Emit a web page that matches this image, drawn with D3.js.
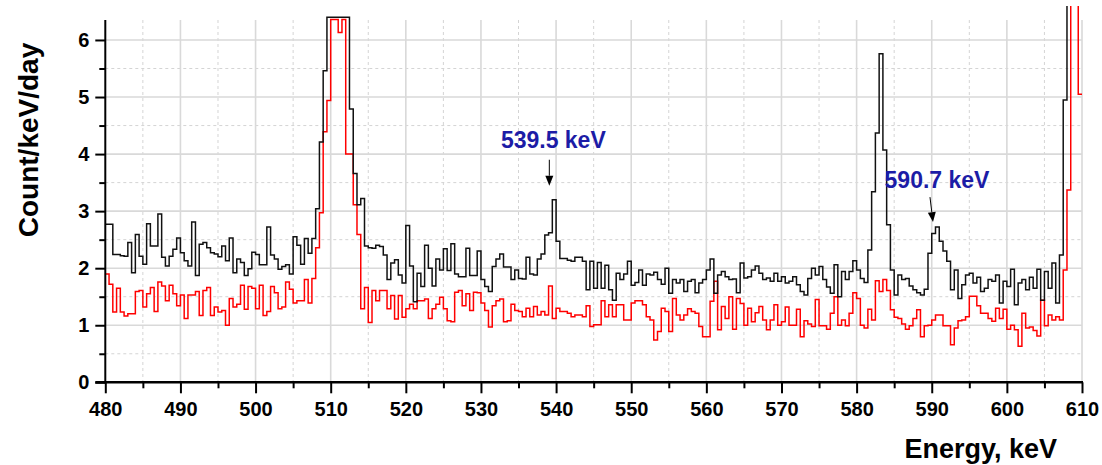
<!DOCTYPE html>
<html>
<head>
<meta charset="utf-8">
<script src="https://cdn.jsdelivr.net/npm/d3@7/dist/d3.min.js"></script>
<style>
  html, body { margin: 0; padding: 0; background: #fff; }
  svg { display: block; }
</style>
</head>
<body>
<svg id="chart" width="1102" height="465"></svg>
<script>
// Spectrum binning: 0.5 keV bins starting at 480 keV
const binStart = 480;
const binWidth = 0.5;

// Black spectrum, Count/keV/day per bin
const countsBlack = [
  2.77,2.77,2.24,2.24,2.22,2.21,2.45,1.92,2.59,2.21,2.07,2.78,2.39,2.39,2.95,2.19,2.04,2.21,2.33,2.53,
  2.27,2.13,2.04,2.81,1.87,2.42,2.45,2.36,2.27,2.25,2.20,2.39,2.13,2.53,1.92,2.16,2.10,1.87,1.99,2.28,
  2.24,2.06,2.06,2.72,2.23,2.16,1.98,2.03,2.06,1.90,2.55,2.40,2.07,2.52,2.26,2.52,3.04,4.21,5.46,6.40,
  6.40,6.40,6.40,6.40,6.40,4.79,3.66,3.11,3.22,2.39,2.36,2.35,2.40,2.38,2.23,1.80,2.09,2.15,1.88,1.74,
  2.75,2.04,1.41,1.91,1.68,2.40,2.00,1.69,2.16,1.97,2.34,1.96,2.43,1.90,1.85,1.85,2.35,1.87,1.87,2.30,
  1.80,1.68,1.59,2.03,2.16,2.25,2.02,2.02,1.80,1.97,1.82,1.81,2.19,1.90,1.88,2.16,2.25,2.58,2.62,3.20,
  2.47,2.17,2.17,2.14,2.12,2.19,2.19,2.12,1.62,2.12,1.65,2.10,1.65,2.05,1.62,1.44,1.91,1.80,1.90,2.12,
  1.70,1.75,1.97,1.70,1.90,1.88,1.93,1.80,1.72,2.00,1.56,1.80,1.74,1.80,1.59,1.77,1.80,1.57,1.74,1.80,
  1.97,2.16,1.56,1.88,1.94,1.85,1.80,1.81,1.57,2.09,1.83,1.85,1.97,2.04,1.91,1.80,1.83,1.77,1.91,1.77,
  1.85,1.74,1.77,1.85,1.71,1.59,1.53,1.82,2.00,1.88,2.03,1.80,1.67,1.56,2.06,1.50,1.94,1.80,1.94,2.13,
  1.97,1.82,1.75,2.32,3.34,4.37,5.76,4.07,2.76,1.97,1.53,1.88,1.80,1.82,1.69,1.62,1.57,1.53,1.63,2.26,
  2.61,2.72,2.47,2.30,2.12,1.62,1.97,1.47,1.71,1.88,1.91,1.74,1.84,1.59,1.65,1.80,1.77,1.88,1.39,1.77,
  1.68,1.98,1.36,1.74,1.80,1.62,1.84,1.65,1.98,1.44,1.94,1.65,2.09,1.39,2.23,4.95,9.5,16,22,26
];

// Red spectrum, Count/keV/day per bin
const countsRed = [
  1.90,1.72,1.23,1.65,1.23,1.16,1.20,1.20,1.59,1.61,1.32,1.55,1.66,1.24,1.76,1.69,1.43,1.70,1.55,1.34,
  1.53,1.12,1.53,1.53,1.59,1.17,1.61,1.66,1.17,1.32,1.23,1.26,1.00,1.47,1.32,1.37,1.70,1.28,1.68,1.65,
  1.29,1.70,1.17,1.24,1.68,1.57,1.29,1.32,1.76,1.63,1.39,1.43,1.43,1.80,1.39,1.82,2.36,2.97,4.39,4.94,
  6.36,6.36,6.13,6.36,4.00,4.00,3.11,2.59,1.29,1.66,1.05,1.61,1.43,1.61,1.61,1.29,1.52,1.11,1.52,1.14,
  1.29,1.37,1.29,1.43,1.43,1.46,1.12,1.29,1.37,1.49,1.29,1.08,1.06,1.58,1.61,1.34,1.55,1.26,1.58,1.57,
  1.39,1.26,0.97,1.34,1.43,1.46,1.06,1.08,1.37,1.26,1.24,1.15,1.30,1.15,1.33,1.18,1.24,1.18,1.69,1.12,
  1.30,1.24,1.24,1.21,1.15,1.18,1.18,1.15,1.34,0.98,1.01,1.01,1.43,1.15,1.36,1.15,1.36,1.36,1.09,1.09,
  1.39,1.43,1.43,1.36,1.15,1.09,0.74,0.89,1.30,1.24,0.89,1.47,1.18,1.09,1.18,1.29,1.24,1.21,0.98,0.80,
  0.80,1.42,1.77,0.92,1.33,1.12,1.50,0.93,1.47,1.38,1.00,1.30,1.06,1.22,1.33,1.09,0.92,1.09,1.36,1.00,
  1.06,1.32,1.00,1.00,1.28,0.80,1.08,1.02,0.98,1.45,0.99,0.99,0.93,1.21,1.50,1.00,1.09,0.99,1.21,1.57,
  1.47,1.00,0.95,1.28,1.09,1.78,1.59,1.80,1.61,1.27,1.14,1.12,1.02,0.93,0.99,1.12,1.27,0.80,0.99,1.00,
  1.09,1.18,1.18,0.99,0.99,0.66,0.95,1.08,1.09,1.15,1.51,1.51,1.34,1.21,1.21,1.12,1.07,1.30,1.12,1.28,
  0.93,1.00,0.92,0.63,1.21,0.95,0.97,0.91,0.81,1.44,0.99,1.18,1.09,1.15,1.09,1.97,3.37,8.5,12,5.05
];

// Axis ticks and titles
const xMajorTicks = [480, 490, 500, 510, 520, 530, 540, 550, 560, 570, 580, 590, 600, 610];
const xMinorTicks = [485, 495, 505, 515, 525, 535, 545, 555, 565, 575, 585, 595, 605];
const yMajorTicks = [0, 1, 2, 3, 4, 5, 6];
const yMinorTicks = [0.5, 1.5, 2.5, 3.5, 4.5, 5.5];
const xTitle = "Energy, keV";
const yTitle = "Count/keV/day";

// Peak annotations
const peakEnergies = [539.5, 590.7];
const peakTexts = ["539.5 keV", "590.7 keV"];

// ---- layout ----
const plot = { left: 105.3, right: 1082, top: 20, bottom: 382.3 };
const font = "'Liberation Sans', Arial, Helvetica, sans-serif";

const x = d3.scaleLinear().domain([480, 610]).range([plot.left, plot.right]);
const y = d3.scaleLinear().domain([0, 6.35]).range([plot.bottom, plot.top]);

const svg = d3.select("#chart");

// grid
const grid = svg.append("g");
grid.selectAll("line.vmin").data(xMinorTicks).join("line")
  .attr("x1", d => x(d)).attr("x2", d => x(d))
  .attr("y1", plot.top).attr("y2", plot.bottom)
  .attr("stroke", "#d4d4d4").attr("stroke-width", 1).attr("stroke-dasharray", "3,3");
grid.selectAll("line.hmin").data(yMinorTicks).join("line")
  .attr("x1", plot.left).attr("x2", plot.right)
  .attr("y1", d => y(d)).attr("y2", d => y(d))
  .attr("stroke", "#d4d4d4").attr("stroke-width", 1).attr("stroke-dasharray", "3,3");
grid.selectAll("line.vmaj").data(xMajorTicks.slice(1)).join("line")
  .attr("x1", d => x(d)).attr("x2", d => x(d))
  .attr("y1", plot.top).attr("y2", plot.bottom)
  .attr("stroke", "#d9d9d9").attr("stroke-width", 1.6);
grid.selectAll("line.hmaj").data(yMajorTicks.slice(1)).join("line")
  .attr("x1", plot.left).attr("x2", plot.right)
  .attr("y1", d => y(d)).attr("y2", d => y(d))
  .attr("stroke", "#d9d9d9").attr("stroke-width", 1.6);

// spectra as step histograms
svg.append("defs").append("clipPath").attr("id", "plotClip")
  .append("rect").attr("x", plot.left).attr("y", 6)
  .attr("width", plot.right - plot.left + 1).attr("height", plot.bottom - 6);

function binPoints(values) {
  const pts = values.map((v, i) => [binStart + i * binWidth, v]);
  pts.push([binStart + values.length * binWidth, values[values.length - 1]]);
  return pts;
}
const stepLine = d3.line()
  .x(d => x(d[0])).y(d => y(d[1]))
  .curve(d3.curveStepAfter);

const lines = svg.append("g").attr("clip-path", "url(#plotClip)");
lines.append("path").datum(binPoints(countsRed))
  .attr("d", stepLine).attr("fill", "none")
  .attr("stroke", "#ff0000").attr("stroke-width", 1.5).attr("stroke-linejoin", "miter");
lines.append("path").datum(binPoints(countsBlack))
  .attr("d", stepLine).attr("fill", "none")
  .attr("stroke", "#111").attr("stroke-width", 1.5).attr("stroke-linejoin", "miter");

// axes
const xAxisMajor = d3.axisBottom(x).tickValues(xMajorTicks).tickSize(11).tickSizeOuter(0).tickPadding(9)
  .tickFormat(d3.format("d"));
const xAxisMinor = d3.axisBottom(x).tickValues(xMinorTicks).tickSize(6).tickSizeOuter(0).tickFormat("");
const yAxisMajor = d3.axisLeft(y).tickValues(yMajorTicks).tickSize(10).tickSizeOuter(0).tickPadding(4)
  .tickFormat(d3.format("d"));
const yAxisMinor = d3.axisLeft(y).tickValues(yMinorTicks).tickSize(6).tickSizeOuter(0).tickFormat("");

function styleAxis(g) {
  g.select(".domain").remove();
  g.selectAll(".tick line").attr("stroke", "#000").attr("stroke-width", 2);
  g.selectAll(".tick text").attr("fill", "#000")
    .style("font-family", font).style("font-weight", "bold").style("font-size", "20px");
}

svg.append("g").attr("transform", `translate(0,${plot.bottom})`).call(xAxisMinor).call(styleAxis);
svg.append("g").attr("transform", `translate(0,${plot.bottom})`).call(xAxisMajor).call(styleAxis);
svg.append("g").attr("transform", `translate(${plot.left},0)`).call(yAxisMinor).call(styleAxis);
svg.append("g").attr("transform", `translate(${plot.left},0)`).call(yAxisMajor).call(styleAxis)
  .selectAll(".tick text").attr("dx", "-2");

// axis lines
svg.append("line").attr("x1", plot.left).attr("x2", plot.left)
  .attr("y1", plot.top).attr("y2", plot.bottom + 1)
  .attr("stroke", "#000").attr("stroke-width", 2);
svg.append("line").attr("x1", plot.left - 10).attr("x2", plot.right + 1)
  .attr("y1", plot.bottom).attr("y2", plot.bottom)
  .attr("stroke", "#000").attr("stroke-width", 2.6);

// axis titles
svg.append("text").text(xTitle)
  .attr("x", 1057).attr("y", 458).attr("text-anchor", "end")
  .style("font-family", font).style("font-weight", "bold").style("font-size", "27px");
svg.append("text").text(yTitle)
  .attr("transform", `translate(38,140) rotate(-90)`).attr("text-anchor", "middle")
  .style("font-family", font).style("font-weight", "bold").style("font-size", "28px");

// peak annotations: label, then arrow pointing down at the peak bin
const annLayout = [
  { dx: -3, textDy: -52, tailDy: -40, tipDy: -14, tailDx: 0 },
  { dx: -4, textDy: -39, tailDy: -30, tipDy: -5, tailDx: -3 }
];
const ann = svg.append("g");
peakEnergies.forEach((e, i) => {
  const L = annLayout[i];
  const bin = Math.floor((e - binStart) / binWidth);
  const px = x(e) + L.dx;
  const py = y(countsBlack[bin]);
  ann.append("text").text(peakTexts[i])
    .attr("x", px + 4).attr("y", py + L.textDy).attr("text-anchor", "middle")
    .attr("fill", "#1c1ca6")
    .style("font-family", font).style("font-weight", "bold").style("font-size", "23px");
  const x0 = px + L.tailDx, y0 = py + L.tailDy, x1 = px, y1 = py + L.tipDy;
  const ang = Math.atan2(y1 - y0, x1 - x0);
  const hl = 10, hw = 4;
  const bx = x1 - hl * Math.cos(ang), by = y1 - hl * Math.sin(ang);
  ann.append("line").attr("x1", x0).attr("y1", y0).attr("x2", bx).attr("y2", by)
    .attr("stroke", "#000").attr("stroke-width", 1);
  ann.append("path")
    .attr("d", `M${x1},${y1}L${bx + hw * Math.sin(ang)},${by - hw * Math.cos(ang)}L${bx - hw * Math.sin(ang)},${by + hw * Math.cos(ang)}Z`)
    .attr("fill", "#000");
});
</script>
</body>
</html>
